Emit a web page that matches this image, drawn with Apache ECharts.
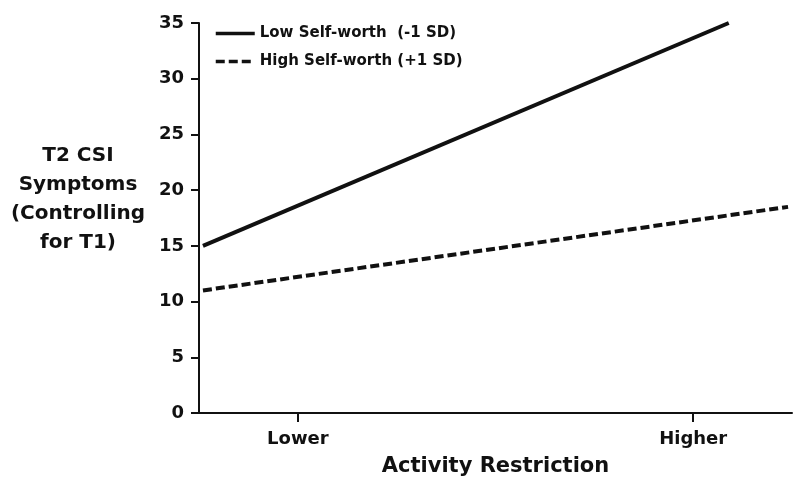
<!DOCTYPE html>
<html>
<head>
<meta charset="utf-8">
<script src="https://cdn.jsdelivr.net/npm/echarts@6/dist/echarts.min.js"></script>
<style>html,body{margin:0;padding:0;background:#fff;}#chart{width:800px;height:493px;}</style>
</head>
<body>
<div id="chart"></div>
<script>
// Category positions on the x scale (Lower = 0, Higher = 1)
var categories = ["Lower", "Higher"];
var categoryPositions = [0, 1];
var yTicks = [0, 5, 10, 15, 20, 25, 30, 35];
var seriesNames = ["Low Self-worth  (-1 SD)", "High Self-worth (+1 SD)"];
// [x position, value]
var lowSelfWorth = [[-0.24, 15.0], [1.09, 35.0]];
var highSelfWorth = [[-0.24, 11.0], [1.24, 18.5]];
var yTitle = "T2 CSI\nSymptoms\n(Controlling\nfor T1)";
var xTitle = "Activity Restriction";

var FONT = "DejaVu Sans";
var chart = echarts.init(document.getElementById('chart'));
chart.setOption({
  animation: false,
  backgroundColor: '#fff',
  grid: {left: 199, right: 8, top: 23, bottom: 80, containLabel: false},
  legend: {
    orient: 'vertical', left: 209, top: 21,
    itemWidth: 39, itemHeight: 14, itemGap: 13,
    data: seriesNames,
    itemStyle: {opacity: 0},
    lineStyle: {width: 3.5},
    textStyle: {fontFamily: FONT, fontWeight: 'bold', fontSize: 15, color: '#111'}
  },
  xAxis: {
    type: 'value', min: -0.25, max: 1.25,
    name: xTitle, nameLocation: 'middle', nameGap: 43,
    nameTextStyle: {fontFamily: FONT, fontWeight: 'bold', fontSize: 21, color: '#111'},
    axisLine: {show: true, onZero: false, lineStyle: {color: '#111', width: 2}},
    axisTick: {show: true, length: 9, customValues: categoryPositions, lineStyle: {color: '#111', width: 2}},
    axisLabel: {
      customValues: categoryPositions, margin: 17,
      fontFamily: FONT, fontWeight: 'bold', fontSize: 18, color: '#111',
      formatter: function (v) { var i = categoryPositions.indexOf(v); return i >= 0 ? categories[i] : ''; }
    },
    splitLine: {show: false}
  },
  yAxis: {
    type: 'value', min: 0, max: 35, interval: 5,
    axisLine: {show: true, onZero: false, lineStyle: {color: '#111', width: 2}},
    axisTick: {show: true, length: 8, lineStyle: {color: '#111', width: 2}},
    axisLabel: {
      margin: 15, fontFamily: FONT, fontWeight: 'bold', fontSize: 18, color: '#111',
      formatter: function (v) { return yTicks.indexOf(v) >= 0 ? String(v) : ''; }
    },
    splitLine: {show: false}
  },
  graphic: [{
    type: 'text', x: 78, y: 141,
    style: {
      text: yTitle, fontFamily: FONT, fontWeight: 'bold', fontSize: 20,
      lineHeight: 29, fill: '#111', align: 'center', verticalAlign: 'top'
    }
  }],
  series: [{
    name: seriesNames[0], type: 'line', data: lowSelfWorth, symbol: 'none', clip: false,
    lineStyle: {color: '#111', width: 4, type: 'solid'},
    itemStyle: {color: '#111'}
  }, {
    name: seriesNames[1], type: 'line', data: highSelfWorth, symbol: 'none', clip: false,
    lineStyle: {color: '#111', width: 4, type: [9, 4]},
    itemStyle: {color: '#111'}
  }]
});
</script>
</body>
</html>
